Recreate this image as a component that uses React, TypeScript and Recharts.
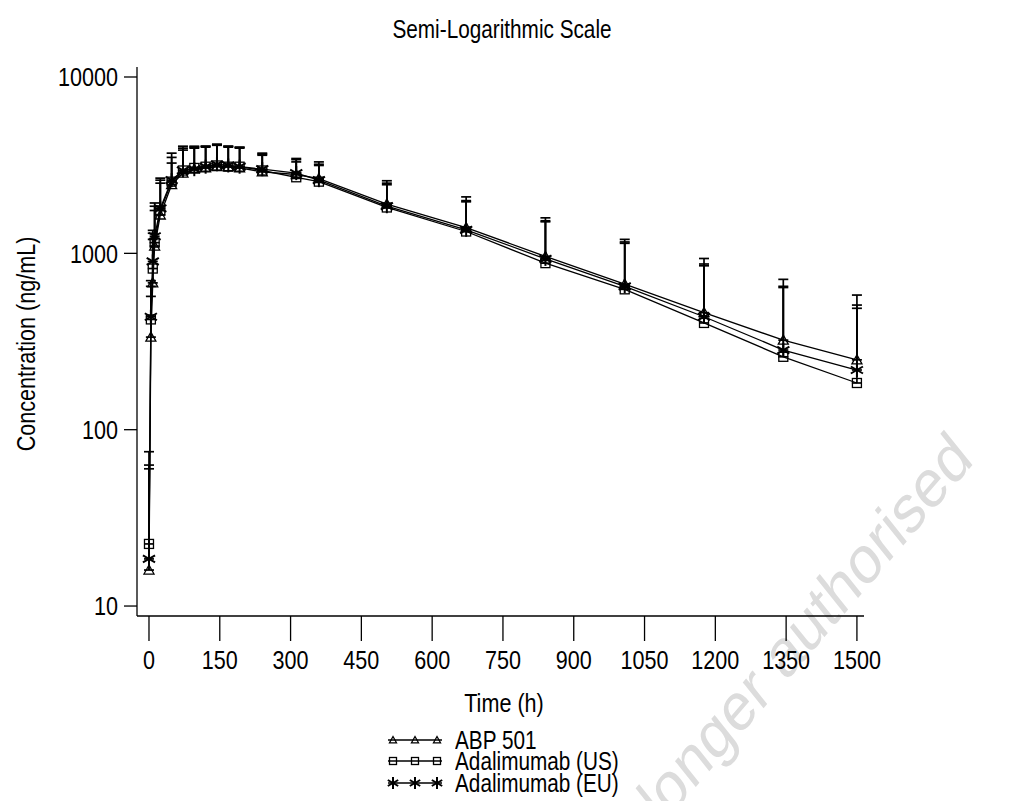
import React from "react";
import { LineChart, Line, XAxis, YAxis, ErrorBar } from "recharts";

// sampling times (h)
const times = [0, 4, 8, 12, 24, 48, 72, 96, 120, 144, 168, 192, 240, 312, 360, 504, 672, 840, 1008, 1176, 1344, 1500];

// mean concentrations (ng/mL)
const abpMean = [16, 335, 680, 1100, 1650, 2450, 2850, 3000, 3050, 3100, 3100, 3050, 2900, 2800, 2650, 1900, 1400, 960, 670, 461, 322, 249];
const usMean = [22.5, 422, 820, 1150, 1750, 2550, 2950, 3050, 3100, 3150, 3100, 3100, 2950, 2700, 2550, 1820, 1330, 880, 625, 403, 259, 184];
const euMean = [18.5, 437, 900, 1250, 1800, 2600, 2950, 3000, 3100, 3200, 3150, 3100, 3000, 2850, 2600, 1850, 1360, 930, 650, 437, 283, 218];

// mean + SD (top of error bar)
const abpUpper = [60, 570, 1200, 1750, 2500, 3250, 3950, 4000, 4050, 4150, 4050, 3990, 3700, 3450, 3300, 2580, 2090, 1590, 1200, 935, 712, 580];
const usUpper = [75, 700, 1350, 1930, 2670, 3700, 4050, 4050, 4000, 4100, 4000, 3950, 3600, 3300, 3150, 2450, 1960, 1510, 1140, 850, 640, 488];
const euUpper = [63, 650, 1300, 1850, 2600, 3500, 3850, 3950, 4050, 4150, 4050, 4000, 3650, 3400, 3200, 2500, 1990, 1530, 1160, 870, 650, 509];

const xTicks = [0, 150, 300, 450, 600, 750, 900, 1050, 1200, 1350, 1500];
const yTicks = [10, 100, 1000, 10000];

const seriesNames = ["ABP 501", "Adalimumab (US)", "Adalimumab (EU)"];

const data = times.map((t, i) => ({
  time: t,
  abp: abpMean[i],
  us: usMean[i],
  eu: euMean[i],
  abpErr: [0, abpUpper[i] - abpMean[i]],
  usErr: [0, usUpper[i] - usMean[i]],
  euErr: [0, euUpper[i] - euMean[i]],
}));

// the original uses a tall, narrow sans: Liberation Sans squeezed horizontally
const font = "'Liberation Sans', Arial, sans-serif";
const squeeze = 0.83;

function XTick(props: any) {
  const { x, y, payload } = props;
  return (
    <g transform={`translate(${x},${y})`}>
      <text x={0} y={0} dy="0.71em" textAnchor="middle" transform={`scale(${squeeze},1)`} fontFamily={font} fontSize={26} fill="#000">
        {payload.value}
      </text>
    </g>
  );
}

function YTick(props: any) {
  const { x, y, payload } = props;
  return (
    <g transform={`translate(${x},${y})`}>
      <text x={0} y={0} dy="0.355em" textAnchor="end" transform={`scale(${squeeze},1)`} fontFamily={font} fontSize={26} fill="#000">
        {payload.value}
      </text>
    </g>
  );
}

function TriangleDot(props: any) {
  const { cx, cy, size = 5 } = props;
  if (cx == null || cy == null) return null;
  const s = size;
  return (
    <path
      d={`M${cx},${cy - s} L${cx + s},${cy + s * 0.8} L${cx - s},${cy + s * 0.8} Z`}
      fill="none"
      stroke="#000"
      strokeWidth={1.3}
    />
  );
}

function SquareDot(props: any) {
  const { cx, cy, size = 4.5 } = props;
  if (cx == null || cy == null) return null;
  return (
    <rect x={cx - size} y={cy - size} width={size * 2} height={size * 2} fill="none" stroke="#000" strokeWidth={1.3} />
  );
}

function StarDot(props: any) {
  const { cx, cy, size = 7 } = props;
  if (cx == null || cy == null) return null;
  const dx = size * 0.866;
  const dy = size * 0.5;
  return (
    <g stroke="#000" strokeWidth={2}>
      <line x1={cx} y1={cy - size} x2={cx} y2={cy + size} />
      <line x1={cx - dx} y1={cy - dy} x2={cx + dx} y2={cy + dy} />
      <line x1={cx - dx} y1={cy + dy} x2={cx + dx} y2={cy - dy} />
    </g>
  );
}

function LegendRow({ name, Dot, size }: { name: string; Dot: any; size: number }) {
  return (
    <div style={{ display: "flex", alignItems: "center", height: 21.5 }}>
      <svg width={60} height={22} style={{ marginRight: 9 }}>
        <line x1={2} y1={11} x2={56} y2={11} stroke="#000" strokeWidth={1.3} />
        {[7, 29, 51].map((x) => (
          <Dot key={x} cx={x} cy={11} size={size} />
        ))}
      </svg>
      <span style={{ display: "inline-block", transform: `scaleX(${squeeze})`, transformOrigin: "left center", whiteSpace: "nowrap" }}>
        {name}
      </span>
    </div>
  );
}

const centred = {
  position: "absolute" as const,
  width: 400,
  textAlign: "center" as const,
  fontFamily: font,
  fontSize: 26,
  lineHeight: "30px",
  color: "#000",
  whiteSpace: "nowrap" as const,
};

export default function App() {
  return (
    <div style={{ position: "absolute", left: 0, top: 0, width: 1034, height: 801, background: "#fff", overflow: "hidden" }}>
      <svg width={1034} height={801} style={{ position: "absolute", left: 0, top: 0 }}>
        <text
          x={0}
          y={0}
          textAnchor="end"
          fontFamily={font}
          fontSize={68}
          fill="#dcdcdc"
          transform={`translate(975,462) scale(${squeeze},1) rotate(-44)`}
        >
          Medicinal product no longer authorised
        </text>
      </svg>

      <div style={{ ...centred, left: 302, top: 14, fontSize: 25, transform: `scaleX(${squeeze})` }}>
        Semi-Logarithmic Scale
      </div>

      <LineChart
        width={1034}
        height={801}
        data={data}
        margin={{ top: 67, right: 170, bottom: 125, left: 17 }}
        style={{ position: "absolute", left: 0, top: 0 }}
      >
        <XAxis
          dataKey="time"
          type="number"
          domain={[-25.4, 1515]}
          ticks={xTicks}
          allowDataOverflow
          height={60}
          tickSize={25}
          tickMargin={10}
          axisLine={{ stroke: "#000", strokeWidth: 1.3 }}
          tickLine={{ stroke: "#000", strokeWidth: 1.3 }}
          tick={<XTick />}
        />
        <YAxis
          scale="log"
          type="number"
          domain={[8.78, 11394]}
          ticks={yTicks}
          allowDataOverflow
          width={120}
          tickSize={13}
          tickMargin={6}
          axisLine={{ stroke: "#000", strokeWidth: 1.3 }}
          tickLine={{ stroke: "#000", strokeWidth: 1.3 }}
          tick={<YTick />}
        />
        <Line
          dataKey="abp"
          name={seriesNames[0]}
          type="linear"
          stroke="#000"
          strokeWidth={1.3}
          dot={<TriangleDot />}
          activeDot={false}
          isAnimationActive={false}
        >
          <ErrorBar dataKey="abpErr" direction="y" width={5} stroke="#000" strokeWidth={1.7} />
        </Line>
        <Line
          dataKey="us"
          name={seriesNames[1]}
          type="linear"
          stroke="#000"
          strokeWidth={1.3}
          dot={<SquareDot />}
          activeDot={false}
          isAnimationActive={false}
        >
          <ErrorBar dataKey="usErr" direction="y" width={5} stroke="#000" strokeWidth={1.7} />
        </Line>
        <Line
          dataKey="eu"
          name={seriesNames[2]}
          type="linear"
          stroke="#000"
          strokeWidth={1.3}
          dot={<StarDot />}
          activeDot={false}
          isAnimationActive={false}
        >
          <ErrorBar dataKey="euErr" direction="y" width={5} stroke="#000" strokeWidth={1.7} />
        </Line>
      </LineChart>

      <div style={{ ...centred, left: 304, top: 688, transform: `scaleX(${squeeze})` }}>Time (h)</div>

      <div style={{ ...centred, left: -174, top: 329, transform: `rotate(-90deg) scaleX(${squeeze})` }}>
        Concentration (ng/mL)
      </div>

      <div
        style={{
          position: "absolute",
          left: 386,
          top: 729,
          fontFamily: font,
          fontSize: 25,
          lineHeight: "22px",
          color: "#000",
        }}
      >
        <LegendRow name={seriesNames[0]} Dot={TriangleDot} size={3.5} />
        <LegendRow name={seriesNames[1]} Dot={SquareDot} size={3.5} />
        <LegendRow name={seriesNames[2]} Dot={StarDot} size={6} />
      </div>
    </div>
  );
}
